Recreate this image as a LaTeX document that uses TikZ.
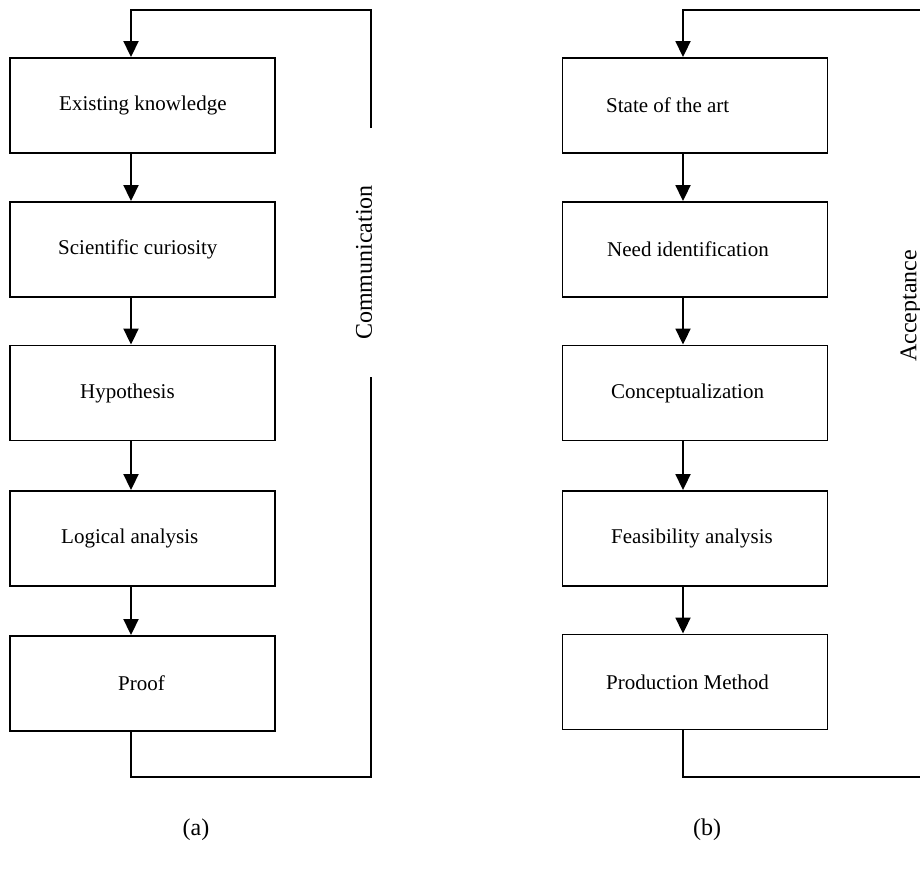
\documentclass[tikz,border=0pt]{standalone}
\usepackage{fontspec}
\setmainfont{Liberation Serif}
\usetikzlibrary{arrows.meta}
\begin{document}
\begin{tikzpicture}[x=1pt,y=-1pt,
  stage/.style={draw, line width=1.9pt, minimum width=265pt, minimum height=95pt, inner sep=0pt},
  stagetext/.style={anchor=west, inner sep=0pt, font=\fontsize{21}{25}\selectfont},
  flow/.style={line width=1.9pt, -{Triangle[width=15pt,length=16pt]}},
  loopline/.style={line width=1.9pt},
  side/.style={rotate=90, inner sep=0pt, font=\fontsize{24}{28}\selectfont},
  caption/.style={inner sep=0pt, font=\fontsize{24}{28}\selectfont}]
\useasboundingbox (0,0) rectangle (920,876);
\clip (0,0) rectangle (920,876);

% ---- (a) scientific method ----
\node[stage] (a1) at (142.5,105.5) {};
\node[stage] (a2) at (142.5,249.5) {};
\node[stage] (a3) at (142.5,393) {};
\node[stage] (a4) at (142.5,538.5) {};
\node[stage] (a5) at (142.5,683.5) {};
\node[stagetext] (ta1) at (59,105.5) {Existing knowledge};
\node[stagetext] (ta2) at (58,249.5) {Scientific curiosity};
\node[stagetext] (ta3) at (80,393) {Hypothesis};
\node[stagetext] (ta4) at (61,538.5) {Logical analysis};
\node[stagetext] (ta5) at (118,683.5) {Proof};

\coordinate (ax) at (131,0);
\draw[flow] (a1.south -| ax) -- (a2.north -| ax);
\draw[flow] (a2.south -| ax) -- (a3.north -| ax);
\draw[flow] (a3.south -| ax) -- (a4.north -| ax);
\draw[flow] (a4.south -| ax) -- (a5.north -| ax);

\coordinate (alow) at (371,377);
\coordinate (ahigh) at (371,128);
\draw[loopline] (a5.south -| ax) |- (371,777) -- (alow);
\draw[flow] (ahigh) -- (371,10) -| (a1.north -| ax);
\node[side] (acomm) at (364,262.5) {Communication};
\node[caption] (acap) at (196,830) {(a)};

% ---- (b) engineering design ----
\node[stage] (b1) at (695,105.5) {};
\node[stage] (b2) at (695,249.5) {};
\node[stage] (b3) at (695,393) {};
\node[stage] (b4) at (695,538.5) {};
\node[stage] (b5) at (695,682) {};
\node[stagetext] (tb1) at (606,105.5) {State of the art};
\node[stagetext] (tb2) at (607,249.5) {Need identification};
\node[stagetext] (tb3) at (611,393) {Conceptualization};
\node[stagetext] (tb4) at (611,538.5) {Feasibility analysis};
\node[stagetext] (tb5) at (606,682) {Production Method};

\coordinate (bx) at (683,0);
\draw[flow] (b1.south -| bx) -- (b2.north -| bx);
\draw[flow] (b2.south -| bx) -- (b3.north -| bx);
\draw[flow] (b3.south -| bx) -- (b4.north -| bx);
\draw[flow] (b4.south -| bx) -- (b5.north -| bx);

\coordinate (bend) at (921,777);
\coordinate (btop) at (921,10);
\draw[loopline] (b5.south -| bx) |- (bend);
\draw[flow] (btop) -| (b1.north -| bx);
\node[side] (bacc) at (911,306) {Acceptance};
\node[caption] (bcap) at (707,830) {(b)};
\end{tikzpicture}
\end{document}
